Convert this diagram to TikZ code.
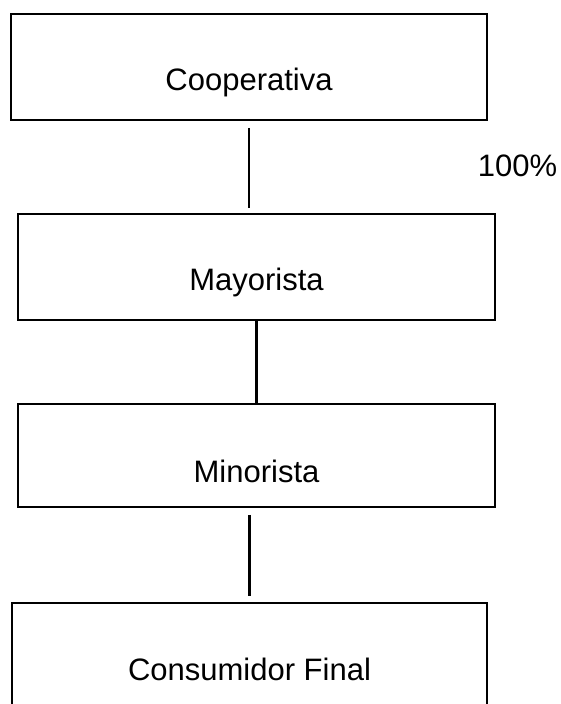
\documentclass[tikz,border=0pt]{standalone}
\usepackage{fontspec}
\setmainfont{Liberation Sans}

\newcommand{\txtsize}{\fontsize{31}{37}\selectfont}
\newcommand{\kasten}{\node[draw, line width=1.8pt, minimum height=106pt, inner sep=0pt, text height=47pt, text depth=0pt, font=\txtsize]}
\newcommand{\lbl}{\node[inner sep=0pt, anchor=base, font=\txtsize]}

\begin{document}
\begin{tikzpicture}[x=1pt, y=-1pt]
            \useasboundingbox (0,0) rectangle (560,704);
            \clip (0,0) rectangle (560,704);

            \kasten[minimum width=476pt] (coop) at (249, 67) {Cooperativa};
            \kasten[minimum width=477pt] (mayo) at (256.5, 267) {Mayorista};
            \kasten[minimum width=477pt, minimum height=103pt, text height=54pt] (mino) at (256.5, 455.5) {Minorista};
            \kasten[minimum width=475pt, minimum height=108pt] (cons) at (249.5, 657) {Consumidor Final};
            \lbl (pct) at (517.5, 176) {100\%};

            \draw[line width=2.4pt, shorten <=7pt, shorten >=5pt]
                (coop.south) -- (coop.south |- mayo.north);

            \draw[line width=2.4pt]
                (mayo.south) -- (mino.north)
                ;

            \draw[line width=2.4pt, shorten <=7pt, shorten >=6pt]
                (cons.north |- mino.south) -- (cons.north)
                ;
\end{tikzpicture}
\end{document}
